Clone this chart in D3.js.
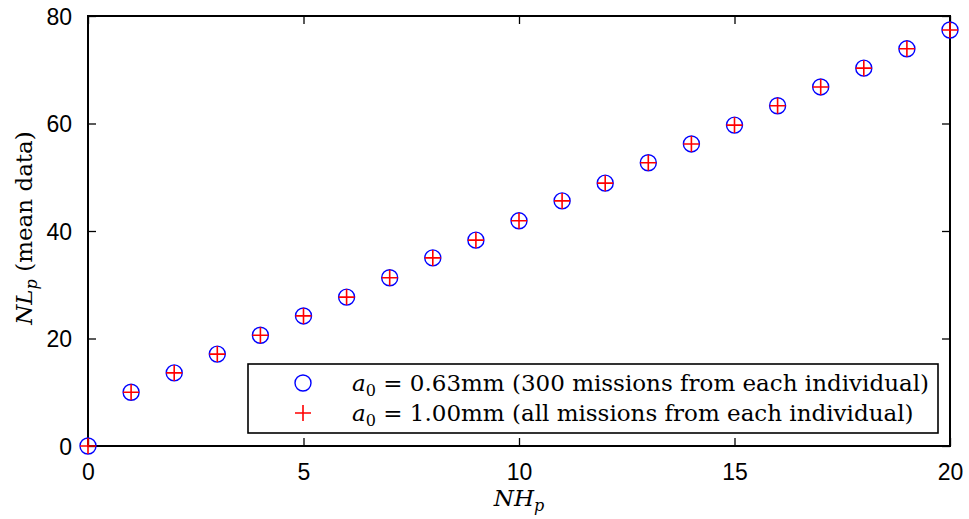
<!DOCTYPE html>
<html>
<head>
<meta charset="utf-8">
<script src="https://cdn.jsdelivr.net/npm/d3@7"></script>
<style>
  html, body { margin: 0; padding: 0; background: #fff; }
  svg { display: block; }
  .tick text { font-family: "Liberation Sans", Arial, sans-serif; font-size: 23px; fill: #000; }
  .serif { font-family: "DejaVu Serif", "Liberation Serif", serif; }
</style>
</head>
<body>
<script>
// ---- data ----
const nhp = [0,1,2,3,4,5,6,7,8,9,10,11,12,13,14,15,16,17,18,19,20];
const seriesA = [0,10.0,13.6,17.1,20.6,24.2,27.7,31.3,35.0,38.3,41.9,45.6,48.9,52.7,56.2,59.7,63.3,66.8,70.3,73.9,77.4];
const seriesB = [0,10.0,13.6,17.1,20.6,24.2,27.7,31.3,35.0,38.3,41.9,45.6,48.9,52.7,56.2,59.7,63.3,66.8,70.3,73.9,77.4];
const xTicks = [0,5,10,15,20];
const yTicks = [0,20,40,60,80];
const legendA = ["= 0.63mm (300 missions from each individual)"];
const legendB = ["= 1.00mm (all missions from each individual)"];

const W = 969, H = 519;
const m = {left: 88, right: 19, top: 16, bottom: 73};
const iw = W - m.left - m.right, ih = H - m.top - m.bottom;

const svg = d3.select("body").append("svg").attr("width", W).attr("height", H);
const g = svg.append("g").attr("transform", `translate(${m.left},${m.top})`);

const x = d3.scaleLinear().domain([0,20]).range([0, iw]);
const y = d3.scaleLinear().domain([0,80]).range([ih, 0]);

// axes
const gx = g.append("g").attr("transform", `translate(0,${ih})`)
  .call(d3.axisBottom(x).tickValues(xTicks).tickSize(-8).tickPadding(18).tickFormat(d3.format("d")));
const gy = g.append("g")
  .call(d3.axisLeft(y).tickValues(yTicks).tickSize(-8).tickPadding(16).tickFormat(d3.format("d")));
const gt = g.append("g")
  .call(d3.axisTop(x).tickValues(xTicks).tickSize(-8).tickFormat(""));
const gr = g.append("g").attr("transform", `translate(${iw},0)`)
  .call(d3.axisRight(y).tickValues(yTicks).tickSize(-8).tickFormat(""));
[gx, gy, gt, gr].forEach(a => {
  a.select(".domain").remove();
  a.selectAll(".tick line").attr("stroke", "#000").attr("stroke-width", 1.3);
});
gy.selectAll(".tick text").attr("dy", "0.36em");

g.append("rect").attr("x", 0).attr("y", 0).attr("width", iw).attr("height", ih)
  .attr("fill", "none").attr("stroke", "#000").attr("stroke-width", 2);

// markers
const ptsA = nhp.map((v, i) => ({x: v, y: seriesA[i]}));
const ptsB = nhp.map((v, i) => ({x: v, y: seriesB[i]}));
g.append("g").selectAll("circle").data(ptsA).join("circle")
  .attr("cx", d => x(d.x)).attr("cy", d => y(d.y)).attr("r", 8)
  .attr("fill", "none").attr("stroke", "#0000ff").attr("stroke-width", 1.4);
g.append("g").selectAll("path").data(ptsB).join("path")
  .attr("transform", d => `translate(${x(d.x)},${y(d.y)})`)
  .attr("d", "M-8,0H8M0,-8V8")
  .attr("fill", "none").attr("stroke", "#ff0000").attr("stroke-width", 1.6);

// legend
const lg = svg.append("g");
const lx0 = 248, ly0 = 364, lw = 690, lh = 69;
lg.append("rect").attr("x", lx0).attr("y", ly0).attr("width", lw).attr("height", lh)
  .attr("fill", "#fff").attr("stroke", "#000").attr("stroke-width", 1.6);
lg.append("circle").attr("cx", 303).attr("cy", 383).attr("r", 8)
  .attr("fill", "none").attr("stroke", "#0000ff").attr("stroke-width", 1.4);
lg.append("path").attr("transform", "translate(303,413)").attr("d", "M-8,0H8M0,-8V8")
  .attr("fill", "none").attr("stroke", "#ff0000").attr("stroke-width", 1.6);
function legendText(yy, rest) {
  const t = lg.append("text").attr("class", "serif").attr("x", 352).attr("y", yy)
    .attr("font-size", 23).attr("fill", "#000");
  t.append("tspan").attr("font-style", "italic").text("a");
  t.append("tspan").attr("font-size", 16).attr("dy", 5).text("0");
  t.append("tspan").attr("dy", -5).text(" " + rest);
}
legendText(391, legendA[0]);
legendText(421, legendB[0]);

// axis labels
const xl = svg.append("text").attr("class", "serif").attr("x", m.left + iw/2).attr("y", 506)
  .attr("text-anchor", "middle").attr("font-size", 23);
xl.append("tspan").attr("font-style", "italic").text("NH");
xl.append("tspan").attr("font-style", "italic").attr("font-size", 16).attr("dy", 5).text("p");

const yl = svg.append("text").attr("class", "serif")
  .attr("transform", `translate(32,${m.top + ih/2 - 3}) rotate(-90)`)
  .attr("text-anchor", "middle").attr("font-size", 23);
yl.append("tspan").attr("font-style", "italic").text("NL");
yl.append("tspan").attr("font-style", "italic").attr("font-size", 16).attr("dy", 5).text("p");
yl.append("tspan").attr("dy", -5).text(" (mean data)");
</script>
</body>
</html>
